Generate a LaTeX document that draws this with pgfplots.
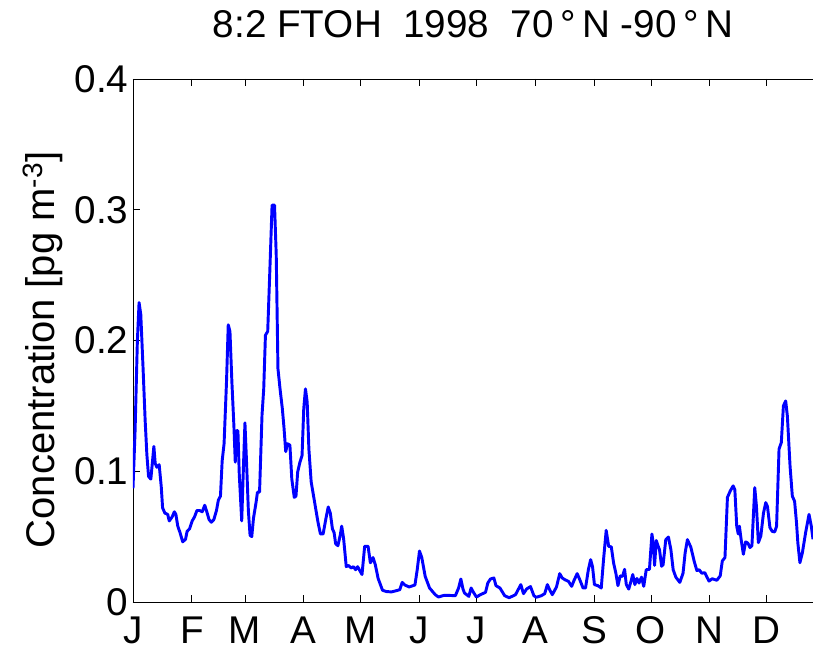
\documentclass[border=0pt]{standalone}
\usepackage{pgfplots}
\pgfplotsset{compat=1.18}
\usepackage{fontspec}
\setmainfont{Liberation Sans}
\begin{document}
\begin{tikzpicture}
\useasboundingbox (-99.75pt,-40.5pt) rectangle (510pt,451.5pt);
\begin{axis}[
  at={(0,0)}, anchor=south west,
  scale only axis, width=510pt, height=392.25pt,
  xmin=0, xmax=358.4, ymin=0, ymax=0.4,
  axis y line*=left,
  axis x line=box,
  xtick={0,31,59,90,120,151,181,212,243,273,304,334},
  xticklabels={J,F,M,A,M,J,J,A,S,O,N,D},
  ytick={0,0.1,0.2,0.3,0.4},
  yticklabels={0,0.1,0.2,0.3,0.4},
  /pgf/number format/assume math mode=true,
  tick align=inside,
  major tick length=5pt,
  tick style={black, line width=0.6pt},
  axis line style={black, line width=0.6pt},
  ticklabel style={font=\fontsize{29}{31}\selectfont},
  xticklabel style={yshift=-7.5pt},
  ylabel={Concentration [pg m\textsuperscript{-3}]},
  ylabel style={font=\fontsize{30}{32}\selectfont, xshift=-7pt, yshift=2pt},
  title={8:2 FTOH~~1998~~70\,°\,N -90\,°\,N},
  title style={font=\fontsize{29}{31}\selectfont, at={(axis description cs:0.5,1)}, anchor=base, yshift=25pt},
  clip=true,
]
\addplot[color={rgb,255:red,0;green,0;blue,255}, line width=2.2pt, line join=round] coordinates {
(0,0.087) (1.1,0.131) (2.3,0.1995) (3.2,0.229) (4.1,0.22) (5.3,0.179) (6.4,0.139) (7.3,0.113) (8.2,0.096) (9.4,0.094)
(10.3,0.108) (11,0.119) (11.7,0.106) (12.6,0.103) (13.8,0.105) (14.9,0.088) (15.6,0.072) (16.8,0.068) (18.3,0.067) (19.1,0.062)
(20.6,0.065) (21.8,0.069) (22.6,0.067) (23.6,0.058) (24.8,0.053) (26.2,0.046) (27.7,0.048) (28.5,0.054) (29.8,0.056) (31.2,0.062)
(32.4,0.065) (33.7,0.070) (35.1,0.070) (36.5,0.069) (37.8,0.074) (38.7,0.070) (40.1,0.063) (41.3,0.061) (42.6,0.063) (44,0.070)
(45,0.078) (46.1,0.081) (47,0.108) (48,0.121) (49.3,0.169) (50.2,0.212) (51.1,0.207) (52.1,0.169) (53.2,0.134) (53.9,0.107)
(54.6,0.131) (55.3,0.131) (56,0.098) (57.3,0.062) (58.2,0.103) (59,0.137) (59.9,0.105) (60.8,0.070) (61.7,0.051) (62.6,0.050)
(63.5,0.064) (64.9,0.0765) (65.6,0.084) (66.7,0.084) (68,0.143) (68.9,0.163) (69.8,0.204) (71,0.207) (72.1,0.2525) (73.3,0.3035)
(74.6,0.3035) (75.5,0.265) (76.4,0.1785) (77.5,0.163) (78.7,0.148) (79.6,0.133) (80.5,0.115) (81.4,0.121) (82.7,0.12) (83.7,0.094)
(85,0.080) (85.9,0.081) (86.8,0.0995) (88,0.107) (89.1,0.112) (90,0.148) (90.9,0.163) (91.8,0.153) (92.7,0.117) (93.9,0.092)
(95.7,0.0765) (97.5,0.061) (98.8,0.052) (100.2,0.052) (101.7,0.064) (102.9,0.0727) (104,0.068) (105.1,0.056) (106,0.053) (106.8,0.0446)
(108,0.043) (109.2,0.051) (110,0.058) (111,0.0485) (112.4,0.027) (113.5,0.028) (115,0.026) (116.2,0.027) (117.3,0.0247) (118.4,0.027)
(120.7,0.021) (122.1,0.0426) (123.9,0.0426) (125.1,0.030) (126.5,0.034) (127.7,0.0286) (129.2,0.018) (131.5,0.009) (133.6,0.008) (136.2,0.0077)
(138.9,0.0087) (140.6,0.0094) (141.9,0.015) (143.3,0.013) (145.5,0.0115) (148.6,0.013) (149.8,0.0247) (151,0.039) (152.2,0.034) (154,0.0196)
(156.3,0.0107) (159.3,0.0056) (161,0.0038) (163.7,0.005) (167.2,0.005) (169.9,0.0048) (171.6,0.0107) (172.8,0.0176) (173.9,0.010) (174.7,0.0069)
(177,0.0043) (178.2,0.0107) (179.4,0.0075) (181,0.0038) (183.1,0.0056) (185.8,0.0074) (187,0.0145) (188.4,0.0176) (190.2,0.0184) (191.3,0.0125)
(193.4,0.0107) (195.9,0.0048) (198.2,0.0033) (199.8,0.0043) (201.6,0.0056) (204.4,0.0133) (205.8,0.0064) (207.5,0.0100) (209.5,0.0118) (211.3,0.0048)
(212.5,0.0036) (215.2,0.0048) (217,0.0064) (218.4,0.0133) (219.6,0.0094) (221,0.0056) (223.2,0.0115) (224.9,0.0217) (226.2,0.0184) (227.7,0.017)
(229.5,0.0158) (231.2,0.012) (232.6,0.017) (234.1,0.0217) (235.5,0.017) (237.2,0.0107) (238.5,0.0107) (240,0.0247) (241.2,0.0324) (242.2,0.027)
(243.2,0.0133) (245,0.0125) (246.8,0.0107) (248,0.0324) (249.4,0.0548) (250.7,0.0426) (252.1,0.0421) (253.3,0.0298) (254.5,0.022) (255.6,0.0125)
(256.8,0.020) (258,0.0196) (259.1,0.025) (260,0.0133) (261.3,0.0099) (262.7,0.017) (263.4,0.021) (264.5,0.0133) (265.6,0.018) (266.7,0.0145)
(268,0.019) (269.2,0.012) (270.5,0.0247) (272.2,0.025) (273.5,0.052) (274.2,0.045) (274.9,0.028) (275.8,0.047) (276.7,0.043) (277.5,0.040)
(278.6,0.0273) (279.4,0.0285) (280.8,0.0477) (282.2,0.0497) (283.5,0.040) (284.7,0.0247) (286.1,0.019) (288.2,0.015) (289.9,0.022) (291,0.0375)
(292.2,0.0477) (294,0.042) (295.8,0.031) (297.2,0.024) (298.4,0.0247) (299.8,0.022) (301.4,0.0224) (302.5,0.019) (303.6,0.016) (305.3,0.0178)
(307.7,0.0166) (309.5,0.020) (310.6,0.0314) (312,0.034) (313.3,0.080) (314.8,0.085) (316.3,0.0888) (317.2,0.086) (318.2,0.058) (319,0.052)
(319.6,0.058) (320.5,0.048) (321.7,0.0365) (322.9,0.046) (324.1,0.045) (325.2,0.0416) (326.2,0.043) (327.7,0.0875) (328.6,0.073) (329.6,0.0454)
(330.9,0.0505) (332.3,0.068) (333.5,0.076) (334.4,0.073) (335.7,0.0569) (336.9,0.054) (338.2,0.0536) (339.2,0.058) (340.5,0.117) (341.7,0.122)
(342.8,0.150) (344,0.1538) (344.9,0.142) (346.3,0.104) (347.5,0.081) (348.7,0.077) (349.7,0.0607) (350.4,0.0454) (351.5,0.030) (352.8,0.0377)
(354.5,0.053) (356.3,0.067) (357.5,0.058) (358.4,0.048)
};
\end{axis}
\end{tikzpicture}
\end{document}
